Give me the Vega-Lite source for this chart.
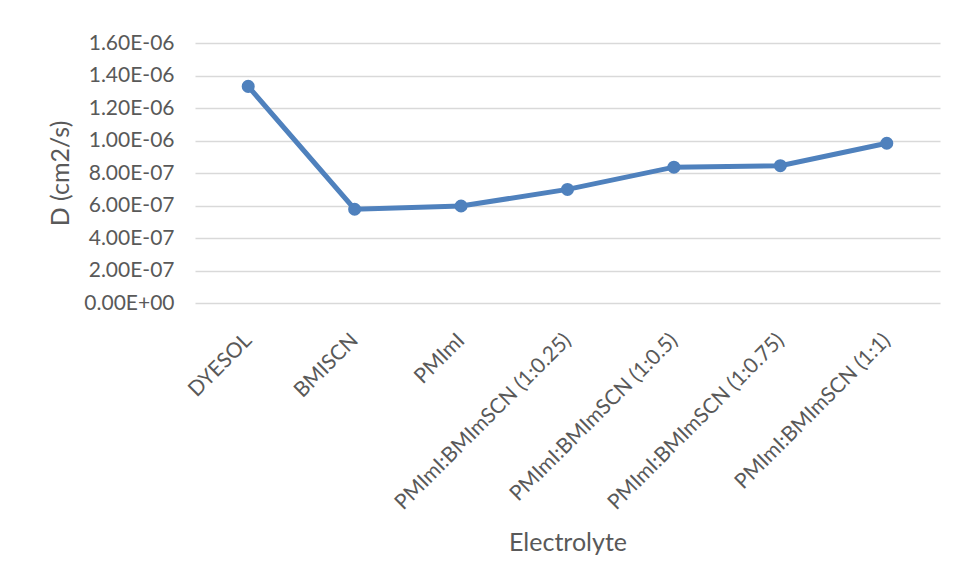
{
  "$schema": "https://vega.github.io/schema/vega-lite/v6.json",
  "width": 745,
  "height": 260,
  "autosize": {"type": "none"},
  "padding": {"left": 195, "top": 43, "right": 17, "bottom": 282},
  "background": "white",
  "config": {
    "view": {"stroke": null},
    "font": "Lato",
    "axis": {"labelColor": "#595959", "titleColor": "#595959", "labelFont": "Lato", "titleFont": "Lato", "titleFontWeight": "normal"}
  },
  "data": {
    "values": [
      {"Electrolyte": "DYESOL", "D": 1.333e-6},
      {"Electrolyte": "BMISCN", "D": 0.577e-6},
      {"Electrolyte": "PMImI", "D": 0.597e-6},
      {"Electrolyte": "PMImI:BMImSCN (1:0.25)", "D": 0.699e-6},
      {"Electrolyte": "PMImI:BMImSCN (1:0.5)", "D": 0.836e-6},
      {"Electrolyte": "PMImI:BMImSCN (1:0.75)", "D": 0.845e-6},
      {"Electrolyte": "PMImI:BMImSCN (1:1)", "D": 0.983e-6}
    ]
  },
  "encoding": {
    "x": {
      "field": "Electrolyte", "type": "ordinal", "sort": null,
      "scale": {"type": "point", "padding": 0.5},
      "axis": {
        "title": "Electrolyte", "titleFontSize": 25, "titlePadding": 27,
        "labelAngle": -45, "labelAlign": "right", "labelBaseline": "middle",
        "labelFontSize": 21, "labelPadding": 34, "labelOverlap": false, "labelLimit": 400,
        "domain": false, "ticks": false, "grid": false
      }
    },
    "y": {
      "field": "D", "type": "quantitative",
      "scale": {"domain": [0, 1.6e-6], "nice": false},
      "axis": {
        "title": "D (cm2/s)", "titleFontSize": 25, "titlePadding": 10,
        "values": [0, 2e-7, 4e-7, 6e-7, 8e-7, 1e-6, 1.2e-6, 1.4e-6, 1.6e-6],
        "labelExpr": "replace(replace(format(datum.value, '.2e'), 'e-', 'E-0'), 'e+', 'E+0')",
        "labelFontSize": 21, "labelPadding": 21,
        "domain": false, "ticks": false,
        "grid": true, "gridColor": "#d9d9d9", "gridWidth": 1.5
      }
    }
  },
  "layer": [
    {"mark": {"type": "line", "color": "#4f81bd", "strokeWidth": 5}},
    {"mark": {"type": "point", "filled": true, "color": "#4f81bd", "opacity": 1, "size": 170}}
  ]
}
